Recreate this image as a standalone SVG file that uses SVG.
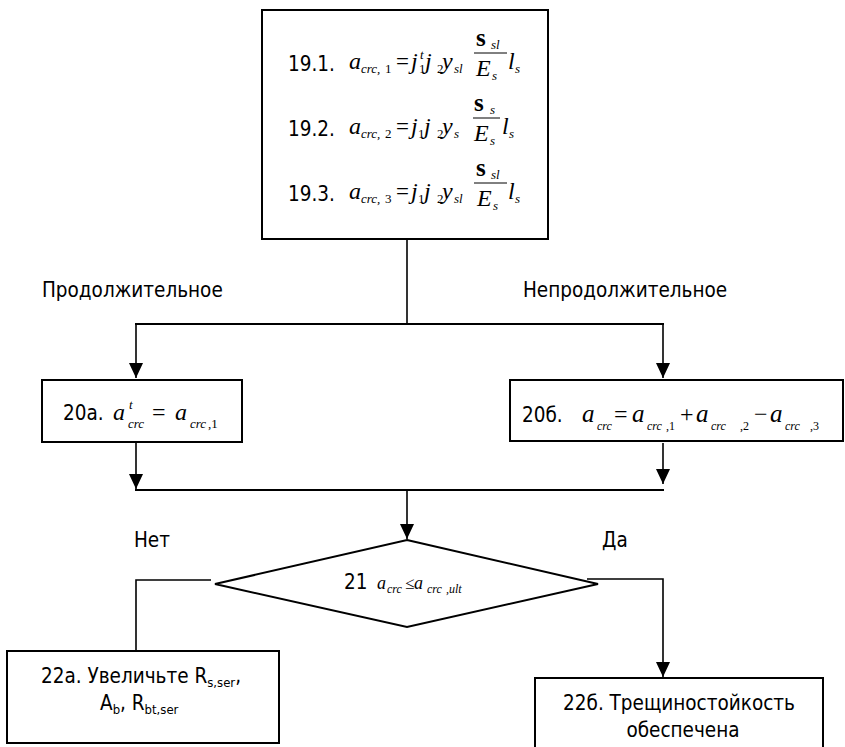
<svg xmlns="http://www.w3.org/2000/svg" width="845" height="747" viewBox="0 0 845 747">
  <style>
    .box { fill: #fff; stroke: #000; stroke-width: 2; }
    .ln { fill: none; stroke: #000; stroke-width: 1.6; }
    .hl { fill: none; stroke: #000; stroke-width: 2; }
    .t { font-family: "DejaVu Sans Condensed", "DejaVu Sans", sans-serif; font-stretch: condensed; font-size: 20.5px; fill: #000; }
    .m { font-family: "Liberation Serif", "Times New Roman", serif; font-style: italic; fill: #000; }
    .r { font-family: "Liberation Serif", "Times New Roman", serif; fill: #000; }
    .b { font-family: "Liberation Serif", "Times New Roman", serif; font-weight: bold; fill: #000; }
    .fr { stroke: #000; stroke-width: 1; }
  </style>
  <defs>
    <marker id="arr" viewBox="0 0 15 14" refX="15" refY="7" markerWidth="15" markerHeight="14" markerUnits="userSpaceOnUse" orient="auto">
      <path d="M0,0 L15,7 L0,14 z" fill="#000"/>
    </marker>
  </defs>
  <rect width="845" height="747" fill="#fff"/>

  <!-- connectors -->
  <g id="connectors">
    <line class="ln" x1="407" y1="240" x2="407" y2="324"/>
    <line class="hl" x1="135" y1="324" x2="664" y2="324"/>
    <line class="ln" x1="136" y1="324" x2="136" y2="378" marker-end="url(#arr)"/>
    <line class="ln" x1="663" y1="324" x2="663" y2="378" marker-end="url(#arr)"/>
    <line class="ln" x1="136" y1="436" x2="136" y2="489" marker-end="url(#arr)"/>
    <line class="ln" x1="663" y1="443" x2="663" y2="484" marker-end="url(#arr)"/>
    <line class="hl" x1="135" y1="490" x2="664" y2="490"/>
    <line class="ln" x1="407" y1="490" x2="407" y2="539" marker-end="url(#arr)"/>
    <polyline class="ln" points="211,580 136,580 136,651"/>
    <polyline class="ln" points="587,579 663,579 663,677" marker-end="url(#arr)"/>
    <text class="t" x="42" y="297">Продолжительное</text>
    <text class="t" x="523" y="297">Непродолжительное</text>
    <text class="t" x="134" y="547">Нет</text>
    <text class="t" x="602" y="547">Да</text>
  </g>

  <!-- block 19: crack width components -->
  <g id="n19">
    <rect class="box" x="262" y="10" width="286" height="229"/>
    <!-- 19.1 -->
    <text class="t" x="288" y="71">19.1.</text>
    <text class="m" x="349" y="69" font-size="24">a</text>
    <text class="m" x="361" y="73" font-size="13">crc,</text>
    <text class="r" x="385" y="73" font-size="13">1</text>
    <text class="r" x="396" y="69" font-size="23">=</text>
    <text class="m" x="411" y="69" font-size="24">j</text>
    <text class="m" x="420" y="59" font-size="13">t</text>
    <text class="r" x="419" y="73" font-size="13">1</text>
    <text class="m" x="425" y="69" font-size="24">j</text>
    <text class="r" x="437" y="73" font-size="13">2</text>
    <text class="m" x="442" y="69" font-size="24">y</text>
    <text class="m" x="454" y="73" font-size="13">sl</text>
    <text class="b" x="476" y="46" font-size="25">s</text>
    <text class="m" x="491" y="49" font-size="13">sl</text>
    <line class="fr" x1="474" y1="53" x2="507" y2="53"/>
    <text class="m" x="476" y="76" font-size="24">E</text>
    <text class="m" x="492" y="80" font-size="13">s</text>
    <text class="m" x="508" y="69" font-size="24">l</text>
    <text class="m" x="515" y="73" font-size="13">s</text>
    <!-- 19.2 -->
    <text class="t" x="288" y="136">19.2.</text>
    <text class="m" x="349" y="134" font-size="24">a</text>
    <text class="m" x="361" y="138" font-size="13">crc,</text>
    <text class="r" x="385" y="138" font-size="13">2</text>
    <text class="r" x="396" y="134" font-size="23">=</text>
    <text class="m" x="411" y="134" font-size="24">j</text>
    <text class="r" x="418" y="138" font-size="13">1</text>
    <text class="m" x="424" y="134" font-size="24">j</text>
    <text class="r" x="437" y="138" font-size="13">2</text>
    <text class="m" x="442" y="134" font-size="24">y</text>
    <text class="m" x="454" y="138" font-size="13">s</text>
    <text class="b" x="474" y="111" font-size="25">s</text>
    <text class="m" x="490" y="114" font-size="13">s</text>
    <line class="fr" x1="473" y1="118" x2="500" y2="118"/>
    <text class="m" x="474" y="141" font-size="24">E</text>
    <text class="m" x="490" y="145" font-size="13">s</text>
    <text class="m" x="502" y="134" font-size="24">l</text>
    <text class="m" x="509" y="138" font-size="13">s</text>
    <!-- 19.3 -->
    <text class="t" x="288" y="201">19.3.</text>
    <text class="m" x="349" y="199" font-size="24">a</text>
    <text class="m" x="361" y="203" font-size="13">crc,</text>
    <text class="r" x="385" y="203" font-size="13">3</text>
    <text class="r" x="396" y="199" font-size="23">=</text>
    <text class="m" x="411" y="199" font-size="24">j</text>
    <text class="r" x="418" y="203" font-size="13">1</text>
    <text class="m" x="424" y="199" font-size="24">j</text>
    <text class="r" x="437" y="203" font-size="13">2</text>
    <text class="m" x="442" y="199" font-size="24">y</text>
    <text class="m" x="454" y="203" font-size="13">sl</text>
    <text class="b" x="476" y="176" font-size="25">s</text>
    <text class="m" x="491" y="179" font-size="13">sl</text>
    <line class="fr" x1="474" y1="183" x2="507" y2="183"/>
    <text class="m" x="477" y="206" font-size="24">E</text>
    <text class="m" x="493" y="210" font-size="13">s</text>
    <text class="m" x="508" y="199" font-size="24">l</text>
    <text class="m" x="515" y="203" font-size="13">s</text>
  </g>

  <!-- block 20a -->
  <g id="n20a">
    <rect class="box" x="42" y="380" width="200" height="62"/>
    <text class="t" x="63" y="420">20а.</text>
    <text class="m" x="113" y="420" font-size="24">a</text>
    <text class="m" x="129" y="409" font-size="13">t</text>
    <text class="m" x="128" y="428" font-size="13">crc</text>
    <text class="r" x="152" y="420" font-size="24">=</text>
    <text class="m" x="175" y="420" font-size="24">a</text>
    <text class="m" x="190" y="428" font-size="13">crc</text>
    <text class="r" x="208" y="428" font-size="13">,1</text>
  </g>

  <!-- block 20b -->
  <g id="n20b">
    <rect class="box" x="510" y="380" width="333" height="61"/>
    <text class="t" x="522" y="422">20б.</text>
    <text class="m" x="582" y="422" font-size="25">a</text>
    <text class="m" x="597" y="430" font-size="12">crc</text>
    <text class="r" x="614" y="422" font-size="24">=</text>
    <text class="m" x="632" y="422" font-size="25">a</text>
    <text class="m" x="647" y="430" font-size="12">crc</text>
    <text class="r" x="666" y="430" font-size="12">,1</text>
    <text class="r" x="680" y="422" font-size="24">+</text>
    <text class="m" x="696" y="422" font-size="25">a</text>
    <text class="m" x="711" y="430" font-size="12">crc</text>
    <text class="r" x="740" y="430" font-size="12">,2</text>
    <text class="r" x="754" y="422" font-size="24">−</text>
    <text class="m" x="770" y="422" font-size="25">a</text>
    <text class="m" x="785" y="430" font-size="12">crc</text>
    <text class="r" x="810" y="430" font-size="12">,3</text>
  </g>

  <!-- block 21: check -->
  <g id="n21">
    <polygon class="box" points="407,540 598,584 407,627 215,584"/>
    <text class="t" x="344" y="589">21</text>
    <text class="m" x="377" y="589" font-size="18">a</text>
    <text class="m" x="387" y="593" font-size="12">crc</text>
    <text class="r" x="405" y="589" font-size="17">≤</text>
    <text class="m" x="414" y="589" font-size="18">a</text>
    <text class="m" x="427" y="593" font-size="12">crc</text>
    <text class="m" x="446" y="593" font-size="12">,ult</text>
  </g>

  <!-- block 22a -->
  <g id="n22a">
    <rect class="box" x="7" y="651" width="272" height="92"/>
    <text class="t" x="41" y="683">22а. Увеличьте R<tspan font-size="13" dy="4">s,ser</tspan><tspan dy="-4">,</tspan></text>
    <text class="t" x="100" y="710">A<tspan font-size="13" dy="4">b</tspan><tspan dy="-4">, R</tspan><tspan font-size="13" dy="4">bt,ser</tspan></text>
  </g>

  <!-- block 22b -->
  <g id="n22b">
    <rect class="box" x="535" y="678" width="288" height="80"/>
    <text class="t" x="679" y="710" text-anchor="middle">22б. Трещиностойкость</text>
    <text class="t" x="683" y="737" text-anchor="middle">обеспечена</text>
  </g>
</svg>
